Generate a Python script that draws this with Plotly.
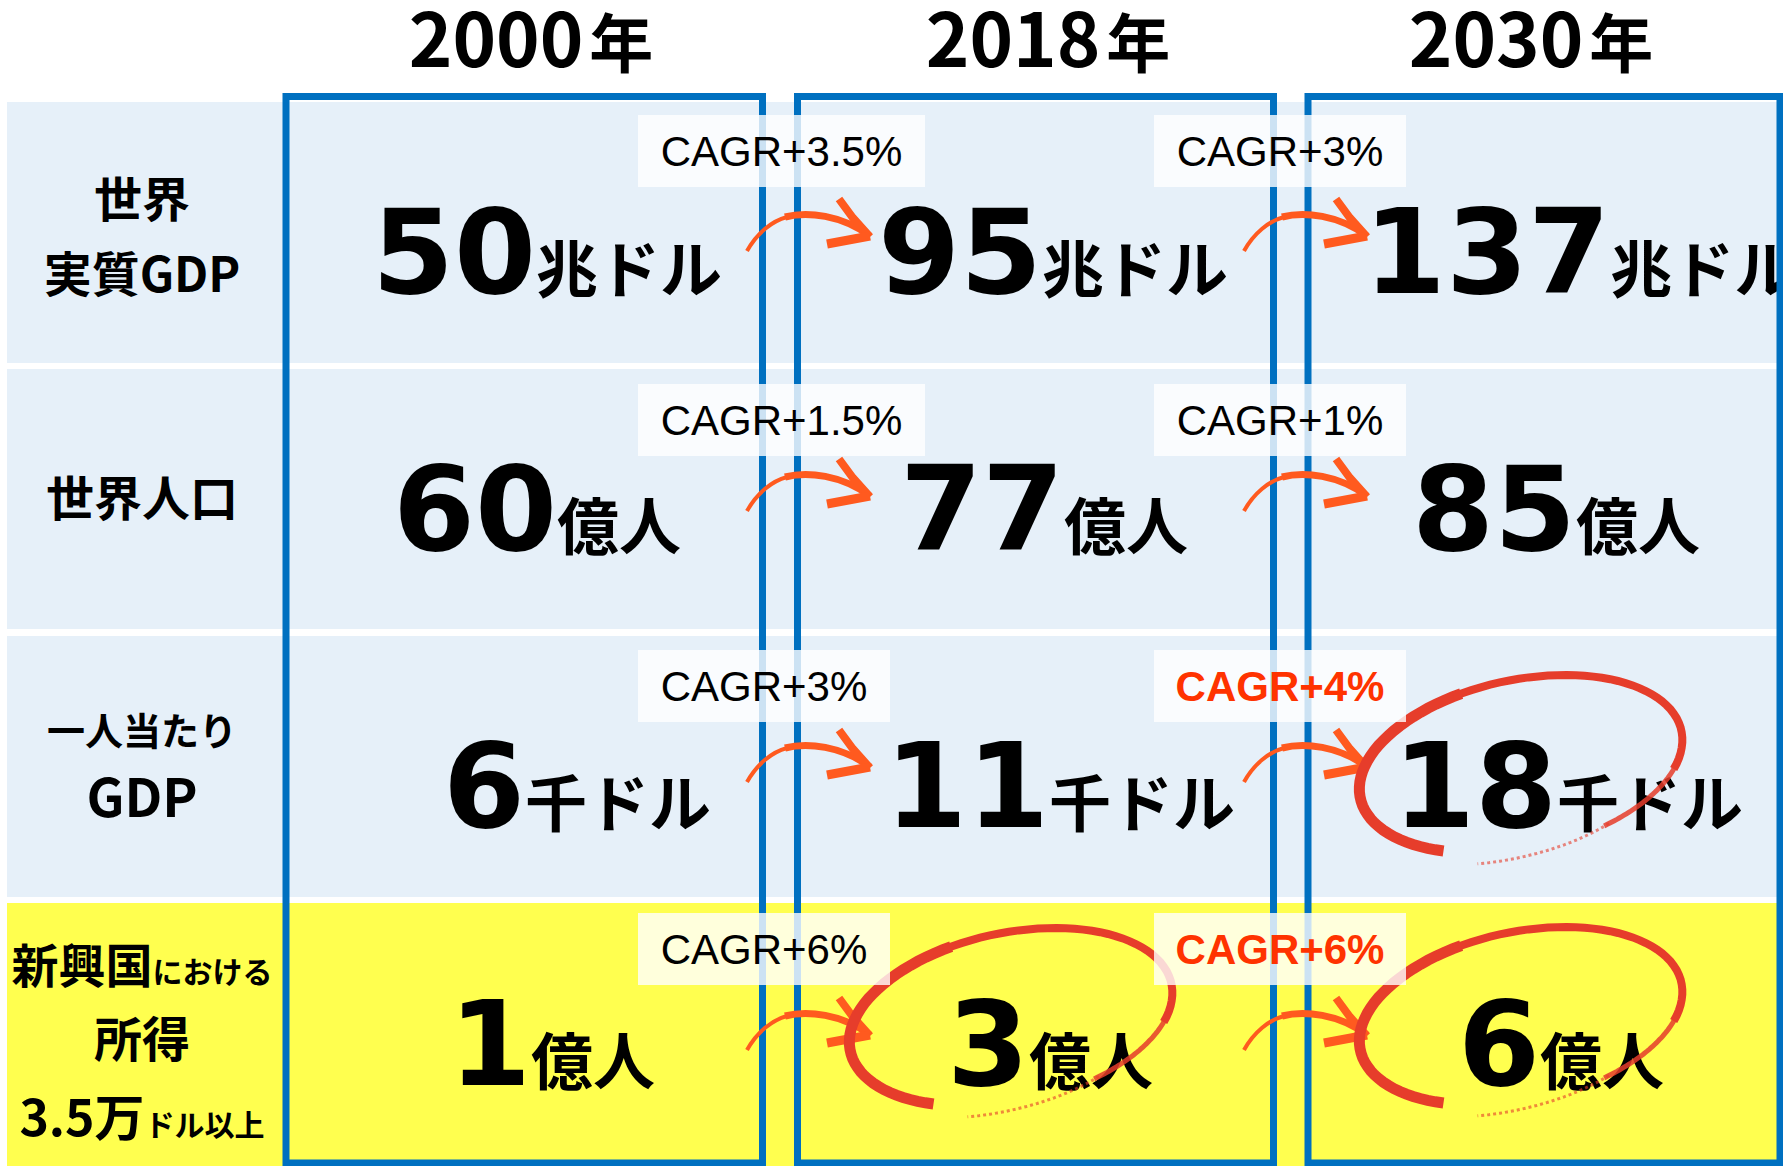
import numpy as np
import plotly.graph_objects as go

# ---------------- data ----------------
years = ["2000", "2018", "2030"]
year_suffix = "年"
row_label_lines = [
    ["世界", "実質GDP"],
    ["世界人口"],
    ["一人当たり", "GDP"],
    ["新興国における", "所得", "3.5万ドル以上"],
]
values = [
    ["50", "95", "137"],
    ["60", "77", "85"],
    ["6", "11", "18"],
    ["1", "3", "6"],
]
units = ["兆ドル", "億人", "千ドル", "億人"]
cagr_labels = [
    ["CAGR+3.5%", "CAGR+3%"],
    ["CAGR+1.5%", "CAGR+1%"],
    ["CAGR+3%", "CAGR+4%"],
    ["CAGR+6%", "CAGR+6%"],
]
cagr_highlight = [[False, False], [False, False], [False, True], [False, True]]
circled_cells = [(2, 2), (3, 1), (3, 2)]

# ---------------- layout / style ----------------
W, H = 1783, 1166
CJK = "Noto Sans CJK JP"
NUM_FONT = "DejaVu Sans"
BLUE_BG = "#E6F0F9"
YELLOW_BG = "#FFFF4F"
FRAME_COLOR = "#0070C0"
ARROW_COLOR = "#FF5A1F"
CIRCLE_COLOR = "#E63D2B"
RED_TEXT = "#FF3300"

ROW_TOP = [102, 369, 636, 903]
ROW_BOT = [363, 629, 897, 1166]
ROW_COLORS = [BLUE_BG, BLUE_BG, BLUE_BG, YELLOW_BG]
BG_X0 = 7
FRAME_X = [(286, 762.5), (797.5, 1273.5), (1308, 1780)]
FRAME_Y = (96.5, 1163)
FRAME_W = 7

YEAR_X = [531, 1048, 1531]
YEAR_Y = 48
YEAR_SIZE, YEAR_SUFFIX_SIZE = 74, 64

LABEL_X = 142
# per line: (y, main size, length of small suffix, small size)
LABEL_STYLE = [
    [(205, 48, 0, 0), (280, 48, 0, 0)],
    [(504, 48, 0, 0)],
    [(735, 38, 0, 0), (804, 53, 0, 0)],
    [(971, 47, 4, 30), (1045, 48, 0, 0), (1123, 50, 4, 30)],
]

VALUE_X = [[547, 1053, 1580], [537, 1044, 1556], [577, 1060, 1568], [552, 1050, 1561]]
VALUE_BASE = [293, 550, 827, 1085]
NUM_SIZE, UNIT_SIZE = 118, 62

CAGR_X0 = [638, 1154]
CAGR_Y = [151, 420, 686, 949]
CAGR_H = 72
CAGR_SIZE = 42

ARROW_SX = [747, 1244]
ARROW_SY = [251, 511, 782, 1050]

CIRCLE_CENTER = {(2, 2): (1520, 765), (3, 1): (1010, 1018), (3, 2): (1520, 1017)}
CIRCLE_A, CIRCLE_B, CIRCLE_ROT = 165, 85, np.radians(-12)


def span(text, size, family=None):
    fam = f"font-family:{family};" if family else ""
    return f'<span style="{fam}font-size:{size}px">{text}</span>'


fig = go.Figure()
shapes = []
annotations = []

# row backgrounds
for top, bot, col in zip(ROW_TOP, ROW_BOT, ROW_COLORS):
    shapes.append(dict(type="rect", x0=BG_X0, x1=W, y0=top, y1=bot, xref="x", yref="y",
                       fillcolor=col, line=dict(width=0), layer="below"))

# year headers
fig.add_trace(go.Scatter(
    x=YEAR_X, y=[YEAR_Y] * 3, mode="text", cliponaxis=False,
    text=[y + span(" ", 26) + span(year_suffix, YEAR_SUFFIX_SIZE) for y in years],
    textposition="middle center",
    textfont=dict(family=CJK, size=YEAR_SIZE, color="black", weight="bold"),
    hoverinfo="skip", showlegend=False))

# row labels
for lines, styles in zip(row_label_lines, LABEL_STYLE):
    for line, (ly, sz, nsmall, ssz) in zip(lines, styles):
        if nsmall:
            txt = line[:-nsmall] + span(line[-nsmall:], ssz)
        else:
            txt = line
        fig.add_trace(go.Scatter(
            x=[LABEL_X], y=[ly], mode="text", text=[txt], textposition="middle center",
            cliponaxis=False,
            textfont=dict(family=CJK, size=sz, color="black", weight="bold"),
            hoverinfo="skip", showlegend=False))

# values
vx, vy, vt = [], [], []
for r, row in enumerate(values):
    for c, v in enumerate(row):
        vx.append(VALUE_X[r][c])
        vy.append(VALUE_BASE[r] - 0.25 * NUM_SIZE)
        vt.append(v + span(units[r], UNIT_SIZE, CJK))
fig.add_trace(go.Scatter(
    x=vx, y=vy, mode="text", text=vt, textposition="middle center",
    textfont=dict(family=NUM_FONT, size=NUM_SIZE, color="black", weight="bold"),
    hoverinfo="skip", showlegend=False))

# frames
for x0, x1 in FRAME_X:
    shapes.append(dict(type="rect", x0=x0, x1=x1, y0=FRAME_Y[0], y1=FRAME_Y[1],
                       xref="x", yref="y", line=dict(color=FRAME_COLOR, width=FRAME_W),
                       fillcolor="rgba(0,0,0,0)", layer="above"))


# arrows
def P(sx, sy, dx, dy):
    return f"{sx + dx:.1f},{sy + dy:.1f}"


for r in range(len(values)):
    for g in range(2):
        sx, sy = ARROW_SX[g], ARROW_SY[r]
        parts = [
            (f"M {P(sx,sy,0,0)} C {P(sx,sy,10,-18)} {P(sx,sy,25,-30)} {P(sx,sy,40,-34)}", 4),
            (f"M {P(sx,sy,38,-34)} C {P(sx,sy,60,-40)} {P(sx,sy,95,-36)} {P(sx,sy,123,-15)}", 7),
            (f"M {P(sx,sy,92,-52)} L {P(sx,sy,106,-33)} L {P(sx,sy,123,-14)}", 8),
            (f"M {P(sx,sy,80,-7)} L {P(sx,sy,123,-15)}", 9),
        ]
        for path, w in parts:
            shapes.append(dict(type="path", path=path, xref="x", yref="y",
                               line=dict(color=ARROW_COLOR, width=w), layer="above"))


# hand-drawn circles
def ellipse_path(cx, cy, t0, t1, grow0=1.0, grow1=1.0, n=40):
    t = np.radians(np.linspace(t0, t1, n))
    g = np.linspace(grow0, grow1, n)
    x = cx + g * (CIRCLE_A * np.cos(t) * np.cos(CIRCLE_ROT) - CIRCLE_B * np.sin(t) * np.sin(CIRCLE_ROT))
    y = cy + g * (CIRCLE_A * np.cos(t) * np.sin(CIRCLE_ROT) + CIRCLE_B * np.sin(t) * np.cos(CIRCLE_ROT))
    return "M " + " L ".join(f"{a:.1f},{b:.1f}" for a, b in zip(x, y))


for cell in circled_cells:
    cx, cy = CIRCLE_CENTER[cell]
    for t0, t1, g0, g1, w, dash, op in [(125, 255, 0.98, 1.0, 11, "solid", 1),
                                         (252, 385, 1.0, 1.0, 8, "solid", 1),
                                         (383, 425, 1.0, 1.0, 5, "solid", 0.85),
                                         (423, 470, 1.0, 1.1, 3, "dot", 0.6)]:
        shapes.append(dict(type="path", path=ellipse_path(cx, cy, t0, t1, g0, g1),
                           xref="x", yref="y", opacity=op,
                           line=dict(color=CIRCLE_COLOR, width=w, dash=dash), layer="above"))

# CAGR boxes
for r in range(len(cagr_labels)):
    for g in range(2):
        lab = cagr_labels[r][g]
        bw = 252 + 17.5 * (len(lab) - 7)
        hi = cagr_highlight[r][g]
        annotations.append(dict(
            x=CAGR_X0[g] + bw / 2, y=CAGR_Y[r], xref="x", yref="y",
            text=f"<b>{lab}</b>" if hi else lab, showarrow=False,
            width=bw, height=CAGR_H, align="center", valign="middle",
            bgcolor="rgba(255,255,255,0.8)", borderpad=0, borderwidth=0,
            font=dict(family="Liberation Sans, Arial", size=CAGR_SIZE,
                      color=RED_TEXT if hi else "black")))

fig.update_layout(
    width=W, height=H, margin=dict(l=0, r=0, t=0, b=0),
    paper_bgcolor="white", plot_bgcolor="white",
    xaxis=dict(range=[0, W], visible=False, fixedrange=True),
    yaxis=dict(range=[H, 0], visible=False, fixedrange=True),
    shapes=shapes, annotations=annotations, showlegend=False,
)

fig.write_html("out.html", config={"displayModeBar": False, "staticPlot": True},
               post_script="document.body.style.margin='0';document.body.style.overflow='hidden';")
